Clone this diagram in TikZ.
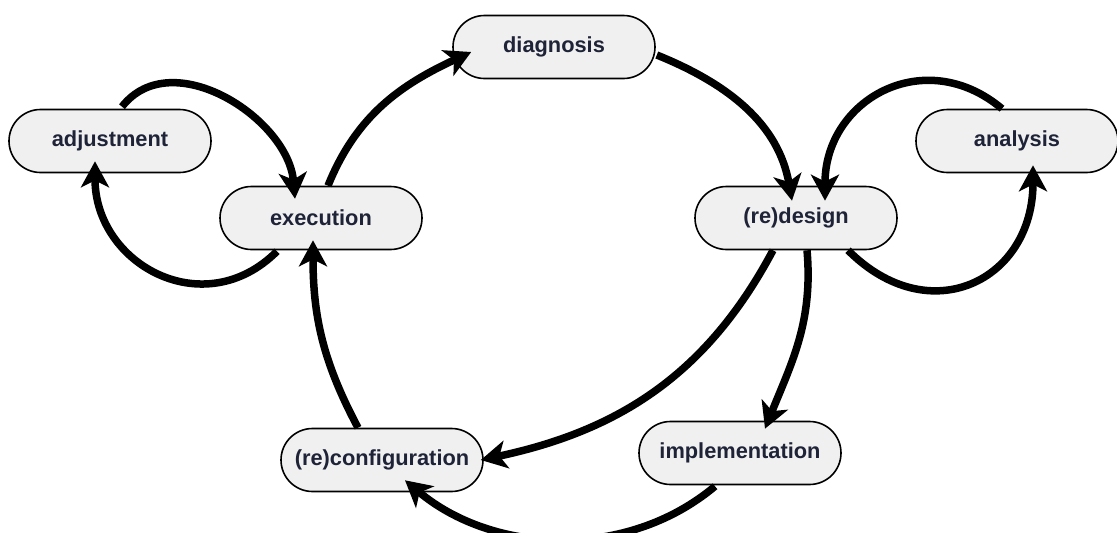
\documentclass[tikz,border=0pt]{standalone}
\usepackage{fontspec}
\setmainfont{Liberation Sans}
\usetikzlibrary{shapes.misc,arrows.meta,calc}
\definecolor{boxfill}{HTML}{F0F0F0}
\definecolor{labelink}{HTML}{1E2338}
\begin{document}
\begin{tikzpicture}[x=1pt,y=1pt,
  stage/.style={rounded rectangle, draw=black, line width=1.6pt, fill=boxfill,
    minimum width=202pt, minimum height=63pt, inner sep=0pt,
    text=labelink, font=\fontsize{21.8}{24}\selectfont\bfseries},
  flow/.style={line width=7.5pt, -{Stealth[length=26pt,width=28pt,inset=7pt]}}]
\useasboundingbox (0,0) rectangle (1117,-533);

% stages of the cycle
\node[stage] (diag)  at (554,-47)  {diagnosis};
\node[stage] (adj)   at (110,-141) {adjustment};
\node[stage] (exe)   at (321,-218) {execution};
\node[stage] (des)   at (796,-218) {(re)design};
\node[stage] (ana)   at (1017,-141) {analysis};
\node[stage] (conf)  at (382,-460) {(re)configuration};
\node[stage] (impl)  at (740,-453) {implementation};

% transitions
\draw[flow] ($(exe.north)+(7,0)$) to[out=68,in=205] ($(diag.west)+(19,-5)$);
\draw[flow] ($(diag.east)+(1,-8)$) to[out=-22,in=100] ($(des.north)+(-4,-15)$);
\draw[flow] ($(ana.north)+(-15,0)$) to[out=140,in=90,looseness=1.3] ($(des.north)+(29,-15)$);
\draw[flow] ($(des.south)+(52,0)$) to[out=-45,in=-90,looseness=1.45] ($(ana.south)+(16,8)$);
\draw[flow] ($(des.south)+(-23,0)$) to[out=-118,in=12] ($(conf.east)+(-3,0)$);
\draw[flow] ($(des.south)+(11,0)$) to[out=-85,in=68] ($(impl.north)+(25,-8)$);
\draw[flow] ($(impl.south)+(-25,-1)$) to[out=-140,in=-40,looseness=0.95] ($(conf.south)+(23,12)$);
\draw[flow] ($(conf.north)+(-24,0)$) to[out=118,in=-90] ($(exe.south)+(-8,10)$);
\draw[flow] ($(adj.north)+(12,2)$) to[out=52,in=95,looseness=1.05] ($(exe.north)+(-26,-13)$);
\draw[flow] ($(exe.south)+(-44,-1)$) to[out=-135,in=-90,looseness=1.3] ($(adj.south)+(-15,12)$);
\end{tikzpicture}
\end{document}
